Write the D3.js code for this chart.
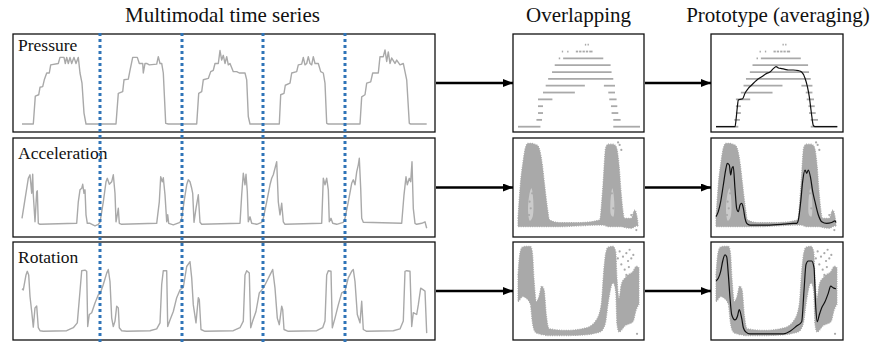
<!DOCTYPE html>
<html>
<head>
<meta charset="utf-8">
<script src="https://cdn.jsdelivr.net/npm/d3@7"></script>
<style>
  html, body { margin: 0; padding: 0; background: #fff; }
  svg { display: block; }
  text { font-family: "Liberation Serif", "Times New Roman", serif; fill: #111; }
</style>
</head>
<body>
<svg id="fig" width="873" height="343"></svg>
<script>
// ---- data ----
const titles = ['Multimodal time series', 'Overlapping', 'Prototype (averaging)'];
const channels = ['Pressure', 'Acceleration', 'Rotation'];

// gait-cycle boundaries on the raw time axis
const cycleBounds = [78, 160, 241, 323];

// raw signals: [time, value]
const pressure = [
  [0,0],[11.3,0],[13.3,41],[16.7,43],[18,54],[20.7,55],[22.3,65],[24.7,75],[27.3,75],[28.7,87],[36.3,89],[38,98],[42,98],[43.3,89],[44.7,98],[46.3,89],[48,98],[49.7,89],[52,98],[54,89],[56.3,98],[58,75],[60,60],[62,16],[64,0],
  [94,0],[96.3,45],[100.7,47.5],[102,65],[106.3,66],[108,79],[110.7,98],[115.3,98],[117.3,89],[120.7,89],[121.3,75],[123,89],[124.7,89],[127.3,87],[134.7,88],[136.3,99],[138,89],[139.7,89],[141.3,75],[143.7,1],[146.3,0],
  [174.7,0],[176.7,45],[179.7,47.5],[181.3,65],[186.3,67],[188.7,77],[191.3,79],[193,89],[196.3,89],[198,108],[199.7,94],[201.3,101],[203,89],[204.7,99],[206.3,87],[208,89],[211.3,77],[214.7,77],[217.3,75],[223,75],[224.7,65],[226.3,11],[228,0],
  [257.3,0],[258.7,43],[262,45],[263.3,57],[268,60],[269.7,75],[274.7,77],[276.3,87],[279.7,88],[281.3,98],[283,87],[284.7,89],[286.3,99],[288,89],[289.7,87],[291.3,99],[293,89],[296.3,89],[298.7,77],[301.3,75],[303,60],[304.7,1],[306.3,0],
  [338,0],[339.7,40],[343,43],[344.7,60],[348.7,62],[350.7,75],[356.3,75],[358,99],[361.3,99],[363,109],[364.7,92],[366.3,106],[368,89],[369.7,97],[373,89],[374.7,94],[378,87],[381.3,89],[383,77],[384.7,65],[387.3,1],[388.7,0],[404.7,0]
];
const acceleration = [
  [0,12],[6.3,92],[8,99],[9.7,62],[10.7,100],[11.3,59],[13,5],[14.7,65],[15.3,67],[16.3,2],[18,0],[54.7,2],[56.3,45],[58,69],[59.7,72],[60.7,80],[62,62],[63,69],[64,19],[65.3,2],[68,2],[73,-3],[76.3,0],
  [78,4],[81.3,45],[84,85],[85.3,92],[87.3,80],[89.7,85],[91.3,99],[93,62],[94,5],[95.3,19],[96.3,32],[97.3,2],[99.7,0],[134.7,2],[137.3,45],[138.7,95],[140.3,85],[141.3,93],[143,59],[144.7,5],[145.7,19],[146.7,2],[151.3,-1],
  [158,4],[159.7,12],[162,45],[164.7,79],[166.3,89],[168,85],[169.7,72],[170.7,62],[172,4],[174,32],[176.3,59],[178,4],[179.7,0],[218,2],[219.7,59],[221.3,102],[223,79],[224,100],[225.3,65],[226.3,5],[228,15],[229.7,2],[234.7,0],
  [239.7,4],[241.3,12],[244.7,45],[248,79],[249.7,92],[251.3,99],[253,112],[254.7,125],[256.3,45],[258,19],[259.7,42],[261.3,5],[263,0],[299.7,2],[301.3,92],[303,79],[304.7,92],[306.3,69],[307.3,5],[309,12],[310.7,2],[314.7,0],
  [321.3,4],[323,12],[326.3,45],[329.7,82],[331.3,89],[333,79],[334.7,105],[336.3,119],[337.3,132],[338.7,72],[339.7,12],[341.3,4],[379.7,2],[382,59],[384,95],[385.3,79],[387.3,92],[388.7,85],[390,125],[391.3,32],[393,2],[394.7,0],[399.7,2],[403,5],[404.7,-8]
];
const rotation = [
  [0,71],[1.3,69],[4,94],[5.3,100],[6.7,94],[8,58],[9.7,33],[11.3,7],[13,39],[14.7,42],[16.3,6],[18,1],[21.3,0],[44.7,1],[51.3,6],[55.3,14],[58,67],[59.7,101],[63,102],[64.7,100],[65.7,8],[67.3,28],[69.7,31],[73,47],[76.3,61],
  [78,62],[81.3,78],[84.7,97],[86.3,103],[88,83],[89.7,22],[91.3,8],[93,17],[94.7,42],[96.3,39],[97.3,6],[99.7,1],[104.7,0],[128,1],[134.7,4],[138,14],[139.7,78],[141.3,101],[144.7,101],[145.7,8],[148,19],[151.3,33],[154.7,56],
  [158,69],[161.3,73],[164.7,108],[168,116],[169.7,89],[171.3,44],[174,14],[176.3,56],[177.3,53],[179,3],[183,0],[211.3,1],[218,6],[221.3,17],[223,94],[224.7,101],[227.3,97],[228.7,6],[230.7,17],[234,33],[237.3,64],
  [241.3,72],[244.7,83],[248,94],[250.7,103],[253,72],[255.3,22],[257.3,11],[259.7,42],[260.7,36],[262,3],[266.3,0],[294.7,1],[300.7,6],[303,17],[304.7,94],[306.3,101],[309,100],[310.3,6],[313,22],[316.3,44],[319.7,64],
  [323,67],[326.3,89],[329.7,100],[331.3,103],[333,83],[335.3,28],[338,14],[339.7,50],[341.3,3],[344.7,0],[371.3,1],[378,4],[381.3,17],[383,100],[384.7,101],[388,100],[389.7,8],[391.3,31],[394.7,28],[396.3,44],[398.7,72],[401.3,69],[403,67],[404.7,-3]
];

// overlapped pressure cycles: quantised levels, [level, phaseStart, phaseEnd]
const pressureBars = [
  [0,0,18.4],[0,78.1,100],
  [1,15.1,19.7],[1,78.1,84.1],
  [2,16.4,20.5],[2,76.7,82.2],
  [3,16.4,20.5],[3,76.2,81.4],
  [4,16.4,28.2],[4,74.8,80.8],
  [5,20.5,46.6],[5,74,79.5],
  [6,22.7,54.8],[6,70.4,79.5],
  [7,24.7,78.1],
  [8,27.9,76.7],
  [9,30.1,75.9],
  [10,33.4,34.6],[10,37,69.9],
  [11,35.9,37],[11,40.3,41.4],[11,47.4,49.3],[11,50.1,52],[11,52.9,54.8],[11,55.6,57.5],[11,58.4,61.1],
  [12,54.8,55.9],[12,57,58.1]
];
const pressureProto = [
  [0,0],[15.7,0],[16.5,1],[17.6,2.9],[18.4,3.9],[19.8,4],[22,4.1],[23.9,4.9],[26.6,5.6],[29.4,6.1],[33.5,6.8],[37.6,7.3],[41.8,7.8],[44.5,8],[47.3,8.5],[49.5,8.8],
  [51.4,8.6],[54.1,8.5],[56.9,8.4],[59.6,8.3],[63.7,8.3],[67.9,8.2],[70.6,8],[73.4,7.1],[75.3,5.9],[76.9,4.4],[78,2.9],[79,1.5],[80.2,0.2],[81.6,0],[100,0]
];

// overlapped acceleration cycles: point-cloud envelope [phase, low, high]
const accelBand = [
  [0,0,10],[1.9,0,50],[4.2,0,78],[6.4,0,96],[8.3,0,100],[11.1,0,100],[13.9,0,99],[15.8,0,98],[18.1,0,92],[20.3,0,74],[22.2,0,50],[24.2,0,26],[26.4,0,8],
  [34.7,0,5],[51.4,1,5],[68,2,8],[70.8,2,50],[73,1,94],[75,0,99],[79.2,0,99],[81.9,0,96],[84.2,0,74],[86.1,0,38],[88.9,-1,10],[94.4,-2,10],[97.2,0,20],[99.2,1,12],[100,0,3]
];
const accelSparse = [
  [[8.4,18],[9.4,38],[11.2,46],[12.7,32],[12.2,12],[9.9,7]],
  [[77,28],[78.6,46],[80.2,30],[79.4,12],[77.6,14]]
];
const accelOutliers = [[9.7,30],[10.6,22],[9.2,14],[11.8,40],[84.7,98],[86.1,92],[83.4,101],[94.4,14],[98.6,-4],[78.2,40],[79.4,22]];
const accelProto = [
  [0,12],[1.9,18],[3.9,30],[6.1,50],[8.3,70],[9.4,76],[11.1,74],[12.2,62],[13.3,70],[14.4,72],[15.8,46],[17.2,22],[18.6,18],[20,26],[21.4,28],[22.8,22],[24.2,10],[25.6,4],[28.3,2],
  [42.2,2],[56.1,3],[64.4,4],[67.2,4],[68.6,8],[70.6,30],[72.2,54],[74.2,68],[75.6,64],[76.9,68],[78.9,58],[80.6,42],[82.5,30],[85.3,14],[88.1,6],[92.2,4],[96.4,5],[99.2,7],[100,5]
];

// overlapped rotation cycles
const rotationBand = [
  [0,38,69],[1.4,40,92],[3.6,44,101],[6.9,42,102],[10.3,35,102],[11.9,15,96],[13.3,6,65],[15.3,2,38],[17.5,1,44],[19.7,0,56],[21.7,0,52],[23.6,-1,23],[25.8,-1,7],
  [40.3,-1,5],[56.9,0,8],[65.3,2,17],[69.4,4,35],[71.4,8,73],[73.1,15,94],[75,35,101],[79.2,60,102],[81.4,50,96],[82.5,12,65],[84.2,3,42],[86.1,5,58],[88.9,10,65],[91.7,12,69],[95.8,15,73],[98.6,29,79],[100.8,35,77]
];
const rotationOutliers = [[84.7,96],[87.5,90],[90.3,94],[91.7,85],[93,98],[86.1,81],[88.9,75],[94.4,88],[90.3,69],[99.2,1],[96.1,92],[92.4,78],[83.2,88]];
const rotationProto = [
  [0,62],[1.9,65],[3.9,73],[5.6,85],[7.5,92],[8.9,90],[10.3,69],[11.7,42],[13.1,23],[15.8,17],[17.8,21],[19.4,29],[21.4,19],[22.8,8],[25,3],[28.3,1],[42.2,1],[56.1,1],[61.7,4],
  [67.2,10],[71.4,15],[73.3,50],[75,81],[76.9,85],[79.7,85],[81.7,77],[83,35],[84.4,15],[86.1,23],[88.1,31],[90.8,38],[93.6,48],[95.6,56],[97.8,54],[100,53]
];

// ---- layout ----
const GRAY = '#a9a9a9';
const svg = d3.select('#fig');
const boxes = { left: [13, 435], over: [513, 644], proto: [711, 843] };

const rows = [
  { name: channels[0], top: 34, bottom: 132, labelY: 51, data: pressure, sy: [124, 56],
    oy: d3.scaleLinear().domain([0, 12]).range([126.7, 44.7]), ox: [518, 640], px: [716, 837.3],
    protoLine: pressureProto },
  { name: channels[1], top: 138, bottom: 237, labelY: 158.5, data: acceleration, sy: [224.3, 174.3],
    oy: d3.scaleLinear().domain([0, 100]).range([226.7, 143.3]), ox: [518, 638], px: [716, 836],
    band: accelBand, sparse: accelSparse, outliers: accelOutliers, protoLine: accelProto },
  { name: channels[2], top: 242, bottom: 340, labelY: 263, data: rotation, sy: [331.3, 271.3],
    oy: d3.scaleLinear().domain([0, 100]).range([334.7, 248]), ox: [518, 638], px: [716, 836],
    band: rotationBand, sparse: [], outliers: rotationOutliers, protoLine: rotationProto }
];

const tx = d3.scaleLinear().domain([0, 405]).range([22, 427]);

// titles
[222.5, 578.5, 778].forEach((x, i) => {
  svg.append('text').attr('x', x).attr('y', 21.5).attr('text-anchor', 'middle')
    .style('font-size', '21px').text(titles[i]);
});

// arrow head
svg.append('defs').append('marker')
  .attr('id', 'arr').attr('markerUnits', 'userSpaceOnUse')
  .attr('viewBox', '0 0 10 8').attr('refX', 10).attr('refY', 4)
  .attr('markerWidth', 10).attr('markerHeight', 8).attr('orient', 'auto')
  .append('path').attr('d', 'M0,0L10,4L0,8Z').attr('fill', '#000');

function panel(x, r) {
  svg.append('rect').attr('x', x[0]).attr('y', r.top)
    .attr('width', x[1] - x[0]).attr('height', r.bottom - r.top)
    .attr('fill', '#fff').attr('stroke', '#111').attr('stroke-width', 1.3);
}

function cloud(g, r, xs) {
  const area = d3.area().x(d => xs(d[0])).y0(d => r.oy(d[1])).y1(d => r.oy(d[2]))
    .curve(d3.curveMonotoneX);
  g.append('path').datum(r.band).attr('d', area)
    .attr('fill', GRAY).attr('stroke', GRAY).attr('stroke-width', 1.2)
    .attr('stroke-dasharray', '1,1.3');
  const poly = d3.line().x(d => xs(d[0])).y(d => r.oy(d[1])).curve(d3.curveCatmullRomClosed);
  g.selectAll('.sparse').data(r.sparse).enter().append('path')
    .attr('d', poly).attr('fill', '#fff').attr('fill-opacity', 0.4);
  g.selectAll('.out').data(r.outliers).enter().append('circle')
    .attr('cx', d => xs(d[0])).attr('cy', d => r.oy(d[1])).attr('r', 1.1).attr('fill', GRAY);
}

function bars(g, r, xs) {
  g.selectAll('.bar').data(pressureBars).enter().append('line')
    .attr('x1', d => xs(d[1])).attr('x2', d => Math.max(xs(d[2]), xs(d[1]) + 1.2))
    .attr('y1', d => r.oy(d[0])).attr('y2', d => r.oy(d[0]))
    .attr('stroke', GRAY).attr('stroke-width', 1.8);
}

rows.forEach((r, i) => {
  // raw series
  panel(boxes.left, r);
  const sy = d3.scaleLinear().domain([0, 100]).range(r.sy);
  svg.append('path').datum(r.data)
    .attr('d', d3.line().x(d => tx(d[0])).y(d => sy(d[1])))
    .attr('fill', 'none').attr('stroke', GRAY).attr('stroke-width', 1.4)
    .attr('stroke-linejoin', 'round');
  svg.append('text').attr('x', 18).attr('y', r.labelY).style('font-size', '17.5px').text(r.name);

  // overlapping
  panel(boxes.over, r);
  const ox = d3.scaleLinear().domain([0, 100]).range(r.ox);
  const g1 = svg.append('g');
  if (i === 0) bars(g1, r, ox); else cloud(g1, r, ox);

  // prototype
  panel(boxes.proto, r);
  const px = d3.scaleLinear().domain([0, 100]).range(r.px);
  const g2 = svg.append('g');
  if (i === 0) bars(g2, r, px); else cloud(g2, r, px);
  g2.append('path').datum(r.protoLine)
    .attr('d', d3.line().x(d => px(d[0])).y(d => r.oy(d[1])).curve(d3.curveMonotoneX))
    .attr('fill', 'none').attr('stroke', '#111').attr('stroke-width', 1.2);

  // arrows
  const ay = (r.top + r.bottom) / 2;
  [[boxes.left[1] + 1, boxes.over[0]], [boxes.over[1] + 1, boxes.proto[0]]].forEach(a => {
    svg.append('line').attr('x1', a[0]).attr('x2', a[1]).attr('y1', ay).attr('y2', ay)
      .attr('stroke', '#000').attr('stroke-width', 2.6).attr('marker-end', 'url(#arr)');
  });
});

// cycle separators
svg.selectAll('.sep').data(cycleBounds).enter().append('line')
  .attr('x1', d => tx(d)).attr('x2', d => tx(d)).attr('y1', 33).attr('y2', 343)
  .attr('stroke', '#2f74b8').attr('stroke-width', 3).attr('stroke-dasharray', '3,3');
</script>
</body>
</html>
